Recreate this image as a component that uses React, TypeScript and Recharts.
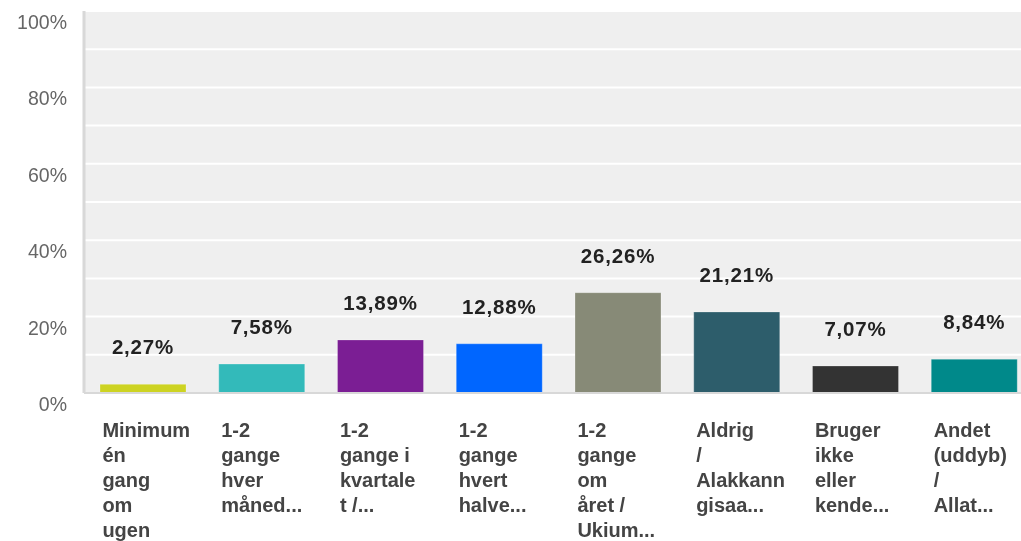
import React from "react";
import { BarChart, Bar, XAxis, YAxis, CartesianGrid, Cell, LabelList } from "recharts";

const categories = [
  "Minimum\nén\ngang\nom\nugen",
  "1-2\ngange\nhver\nmåned...",
  "1-2\ngange i\nkvartale\nt /...",
  "1-2\ngange\nhvert\nhalve...",
  "1-2\ngange\nom\nåret /\nUkium...",
  "Aldrig\n/\nAlakkann\ngisaa...",
  "Bruger\nikke\neller\nkende...",
  "Andet\n(uddyb)\n/\nAllat...",
];
const values = [2.27, 7.58, 13.89, 12.88, 26.26, 21.21, 7.07, 8.84];
const yTicks = [0, 10, 20, 30, 40, 50, 60, 70, 80, 90, 100];
const palette = ["#cdd322", "#33baba", "#7b1e94", "#0066ff", "#878a77", "#2d5d6b", "#333333", "#00898a"];

const data = categories.map((c, i) => ({ name: c, value: values[i] }));

const FONT = "'Liberation Sans', Arial, Helvetica, sans-serif";

const YTick = (props: any) => {
  const { y, payload } = props;
  if (payload.value % 20 !== 0) return null;
  return (
    <text x={59} y={y + 11} dy="0.355em" textAnchor="end" fill="#666" fontSize={19.5} fontFamily={FONT}>
      {payload.value}%
    </text>
  );
};

const XTick = (props: any) => {
  const { x, y, payload } = props;
  const lines = String(payload.value).split("\n");
  return (
    <text x={x - 41} y={y + 36} fill="#444" fontSize={20} fontWeight="bold" fontFamily={FONT}>
      {lines.map((l, i) => (
        <tspan key={i} x={x - 41} dy={i === 0 ? 0 : 25}>
          {l}
        </tspan>
      ))}
    </text>
  );
};

const ValueLabel = (props: any) => {
  const { x, y, width, value } = props;
  return (
    <text
      x={x + width / 2}
      y={y - 30}
      textAnchor="middle"
      fill="#222"
      fontSize={20.5}
      fontWeight="bold"
      letterSpacing={0.8}
      fontFamily={FONT}
    >
      {Number(value).toFixed(2).replace(".", ",")}%
    </text>
  );
};

export default function App() {
  return (
    <div style={{ position: "fixed", left: 8, top: 8, width: 1013, height: 533, overflow: "hidden" }}>
      <BarChart
        width={1026}
        height={533}
        data={data}
        margin={{ top: 3, right: 0, bottom: 0, left: 0 }}
        barSize={86}
      >
        <CartesianGrid vertical={false} horizontal={true} fill="#efefef" stroke="#ffffff" strokeWidth={2} />
        <XAxis
          dataKey="name"
          height={148}
          interval={0}
          tickLine={false}
          axisLine={{ stroke: "#d8d8d8", strokeWidth: 2 }}
          tick={<XTick />}
        />
        <YAxis
          width={76}
          domain={[0, 100]}
          ticks={yTicks}
          interval={0}
          tickLine={false}
          axisLine={{ stroke: "#d8d8d8", strokeWidth: 3 }}
          tick={<YTick />}
        />
        <Bar dataKey="value" isAnimationActive={false} stroke="rgba(255,255,255,0.25)" strokeWidth={1}>
          {data.map((d, i) => (
            <Cell key={i} fill={palette[i]} />
          ))}
          <LabelList dataKey="value" content={<ValueLabel />} />
        </Bar>
      </BarChart>
    </div>
  );
}
